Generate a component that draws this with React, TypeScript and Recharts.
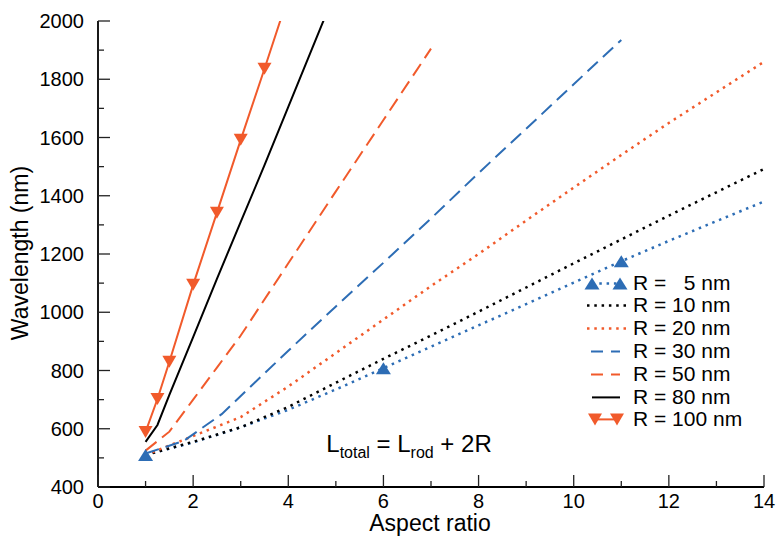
import React from 'react';
import { LineChart, Line, XAxis, YAxis, Legend, Customized } from 'recharts';

const ORANGE = '#F15A2B';
const BLUE = '#2D6DB5';
const FONT = '"Liberation Sans", Arial, Helvetica, sans-serif';

// axis ticks
const xTicks = [0, 1, 2, 3, 4, 5, 6, 7, 8, 9, 10, 11, 12, 13, 14];
const xMajor = [0, 2, 4, 6, 8, 10, 12, 14];
const yTicks = [400, 500, 600, 700, 800, 900, 1000, 1100, 1200, 1300, 1400, 1500, 1600, 1700, 1800, 1900, 2000];
const yMajor = [400, 600, 800, 1000, 1200, 1400, 1600, 1800, 2000];

// R = 5 nm
const ar5 = [1, 2, 3, 4, 5, 6, 7, 8, 9, 10, 11, 12, 13, 14];
const wl5 = [510, 553, 605, 665, 735, 808, 882, 955, 1028, 1102, 1175, 1245, 1313, 1380];
const marks5 = [1, 6, 11];
// R = 10 nm
const ar10 = [1, 2, 3, 4, 5, 6, 7, 8, 9, 10, 11, 12, 13, 14];
const wl10 = [510, 555, 605, 675, 758, 840, 920, 1002, 1085, 1168, 1250, 1332, 1412, 1492];
// R = 20 nm
const ar20 = [1, 2, 3, 4, 5, 6, 7, 8, 9, 10, 11, 12, 13, 14];
const wl20 = [510, 575, 640, 745, 860, 975, 1090, 1200, 1315, 1428, 1540, 1650, 1755, 1860];
// R = 30 nm
const ar30 = [1, 1.8, 2.6, 4, 5, 6, 7, 8, 9, 10, 11];
const wl30 = [515, 558, 650, 868, 1020, 1170, 1322, 1478, 1630, 1783, 1935];
// R = 50 nm
const ar50 = [1, 1.5, 2, 2.5, 3, 4, 5, 6, 7];
const wl50 = [525, 590, 700, 810, 920, 1168, 1415, 1660, 1905];
// R = 80 nm
const ar80 = [1, 1.25, 1.5, 2, 2.5, 3, 3.5, 4, 4.5, 5];
const wl80 = [555, 613, 716, 915, 1115, 1310, 1505, 1705, 1905, 2105];
// R = 100 nm
const ar100 = [1, 1.25, 1.5, 2, 2.5, 3, 3.5, 4];
const wl100 = [589, 702, 830, 1094, 1342, 1592, 1836, 2085];
const marks100 = [1, 1.25, 1.5, 2, 2.5, 3, 3.5];

const legendLabels = ['R =   5 nm', 'R = 10 nm', 'R = 20 nm', 'R = 30 nm', 'R = 50 nm', 'R = 80 nm', 'R = 100 nm'];

const toPoints = (xs: number[], ys: number[], marks: number[] = []) =>
  xs.map((x, i) => ({ x, y: ys[i], m: marks.includes(x) }));

const DOTTED = '2.5 4.8';
const DASHED = '14 7';

const upTri = (x: number, y: number) => `M${x},${y - 6} L${x + 7.5},${y + 6} L${x - 7.5},${y + 6} Z`;
const downTri = (x: number, y: number) => `M${x - 7},${y - 6} L${x + 7},${y - 6} L${x},${y + 6} Z`;

const makeDot = (color: string, down: boolean) => (p: any) => {
  if (!p.payload || !p.payload.m) return <g key={`n${p.index}`} />;
  return <path key={`d${p.index}`} d={down ? downTri(p.cx, p.cy) : upTri(p.cx, p.cy)} fill={color} stroke="none" />;
};

const BottomTick = (p: any) => {
  const v = p.payload.value;
  const major = xMajor.includes(v);
  return (
    <g>
      <line x1={p.x} x2={p.x} y1={p.y} y2={p.y - (major ? 12 : 6)} stroke="#222" strokeWidth={1.3} />
      {major && (
        <text x={p.x} y={p.y + 21} textAnchor="middle" fontSize={20} fontFamily={FONT} fill="#000">
          {v}
        </text>
      )}
    </g>
  );
};

const TopTick = (p: any) => {
  const major = xMajor.includes(p.payload.value);
  return <line x1={p.x} x2={p.x} y1={p.y} y2={p.y + (major ? 12 : 6)} stroke="#222" strokeWidth={1.3} />;
};

const LeftTick = (p: any) => {
  const v = p.payload.value;
  const major = yMajor.includes(v);
  return (
    <g>
      <line x1={p.x} x2={p.x + (major ? 12 : 6)} y1={p.y} y2={p.y} stroke="#222" strokeWidth={1.3} />
      {major && (
        <text x={p.x - 14} y={p.y + 7} textAnchor="end" fontSize={20} fontFamily={FONT} fill="#000">
          {v}
        </text>
      )}
    </g>
  );
};

const RightTick = (p: any) => {
  const major = yMajor.includes(p.payload.value);
  return <line x1={p.x} x2={p.x - (major ? 12 : 6)} y1={p.y} y2={p.y} stroke="#222" strokeWidth={1.3} />;
};

const Texts = () => (
  <g fontFamily={FONT} fill="#000">
    <text x={430} y={531} textAnchor="middle" fontSize={23}>
      Aspect ratio
    </text>
    <text transform="translate(28,253) rotate(-90)" textAnchor="middle" fontSize={23}>
      Wavelength (nm)
    </text>
    <text x={409} y={452} textAnchor="middle" fontSize={24}>
      L<tspan dy={6} fontSize={16}>total</tspan>
      <tspan dy={-6} fontSize={24}>{' = L'}</tspan>
      <tspan dy={6} fontSize={16}>rod</tspan>
      <tspan dy={-6} fontSize={24}>{' + 2R'}</tspan>
    </text>
  </g>
);

const sample = (i: number) => {
  const cy = 11.4;
  switch (i) {
    case 0:
      return (
        <g>
          <line x1={8} x2={37} y1={cy} y2={cy} stroke={BLUE} strokeWidth={2.5} strokeDasharray={DOTTED} />
          <path d={upTri(8, cy)} fill={BLUE} />
          <path d={upTri(36, cy)} fill={BLUE} />
        </g>
      );
    case 1:
      return <line x1={3} x2={42} y1={cy} y2={cy} stroke="#000" strokeWidth={2.5} strokeDasharray={DOTTED} />;
    case 2:
      return <line x1={3} x2={42} y1={cy} y2={cy} stroke={ORANGE} strokeWidth={2.5} strokeDasharray={DOTTED} />;
    case 3:
      return <line x1={7} x2={36} y1={cy} y2={cy} stroke={BLUE} strokeWidth={2} strokeDasharray="12 8" />;
    case 4:
      return <line x1={7} x2={36} y1={cy} y2={cy} stroke={ORANGE} strokeWidth={2} strokeDasharray="12 8" />;
    case 5:
      return <line x1={8} x2={36} y1={cy} y2={cy} stroke="#000" strokeWidth={2} />;
    default:
      return (
        <g>
          <line x1={11} x2={33} y1={cy} y2={cy} stroke={ORANGE} strokeWidth={2} />
          <path d={downTri(11, cy)} fill={ORANGE} />
          <path d={downTri(33, cy)} fill={ORANGE} />
        </g>
      );
  }
};

const LegendBox = () => (
  <div style={{ fontFamily: FONT, fontSize: 21, color: '#000' }}>
    {legendLabels.map((lab, i) => (
      <div key={lab} style={{ display: 'flex', alignItems: 'center', height: 22.8 }}>
        <svg width={46} height={22.8} style={{ display: 'block' }}>
          {sample(i)}
        </svg>
        <span style={{ whiteSpace: 'pre', marginLeft: 3, lineHeight: '22.8px' }}>{lab}</span>
      </div>
    ))}
  </div>
);

export default function App() {
  const axisLine = { stroke: '#000', strokeWidth: 1.8 };
  return (
    <div style={{ position: 'absolute', left: 0, top: 0, width: 779, height: 541, background: '#fff' }}>
      <LineChart width={779} height={541} margin={{ top: 21, right: 15, bottom: 0, left: 0 }}>
        <XAxis
          dataKey="x"
          type="number"
          domain={[0, 14]}
          ticks={xTicks}
          interval={0}
          height={54}
          allowDataOverflow
          axisLine={axisLine}
          tickLine={false}
          tickSize={0}
          tickMargin={0}
          tick={<BottomTick />}
        />
        <XAxis
          xAxisId="top"
          orientation="top"
          dataKey="x"
          type="number"
          domain={[0, 14]}
          ticks={xTicks}
          interval={0}
          height={0}
          allowDataOverflow
          axisLine={axisLine}
          tickLine={false}
          tickSize={0}
          tickMargin={0}
          tick={<TopTick />}
        />
        <YAxis
          type="number"
          domain={[400, 2000]}
          ticks={yTicks}
          interval={0}
          width={98}
          allowDataOverflow
          axisLine={axisLine}
          tickLine={false}
          tickSize={0}
          tickMargin={0}
          tick={<LeftTick />}
        />
        <YAxis
          yAxisId="right"
          orientation="right"
          type="number"
          domain={[400, 2000]}
          ticks={yTicks}
          interval={0}
          width={0}
          allowDataOverflow
          axisLine={axisLine}
          tickLine={false}
          tickSize={0}
          tickMargin={0}
          tick={<RightTick />}
        />
        <Line data={toPoints(ar5, wl5, marks5)} dataKey="y" type="linear" stroke={BLUE} strokeWidth={2.5} strokeDasharray={DOTTED} dot={makeDot(BLUE, false)} activeDot={false} isAnimationActive={false} />
        <Line data={toPoints(ar10, wl10)} dataKey="y" type="linear" stroke="#000" strokeWidth={2.5} strokeDasharray={DOTTED} dot={false} activeDot={false} isAnimationActive={false} />
        <Line data={toPoints(ar20, wl20)} dataKey="y" type="linear" stroke={ORANGE} strokeWidth={2.5} strokeDasharray={DOTTED} dot={false} activeDot={false} isAnimationActive={false} />
        <Line data={toPoints(ar30, wl30)} dataKey="y" type="linear" stroke={BLUE} strokeWidth={2} strokeDasharray={DASHED} dot={false} activeDot={false} isAnimationActive={false} />
        <Line data={toPoints(ar50, wl50)} dataKey="y" type="linear" stroke={ORANGE} strokeWidth={2} strokeDasharray={DASHED} dot={false} activeDot={false} isAnimationActive={false} />
        <Line data={toPoints(ar80, wl80)} dataKey="y" type="linear" stroke="#000" strokeWidth={2} dot={false} activeDot={false} isAnimationActive={false} />
        <Line data={toPoints(ar100, wl100, marks100)} dataKey="y" type="linear" stroke={ORANGE} strokeWidth={2} dot={makeDot(ORANGE, true)} activeDot={false} isAnimationActive={false} />
        <Legend
          layout="vertical"
          align="center"
          verticalAlign="middle"
          content={<LegendBox />}
          wrapperStyle={{ left: 584, top: 271.6, width: 'auto', height: 'auto' }}
        />
        <Customized component={<Texts />} />
      </LineChart>
    </div>
  );
}
